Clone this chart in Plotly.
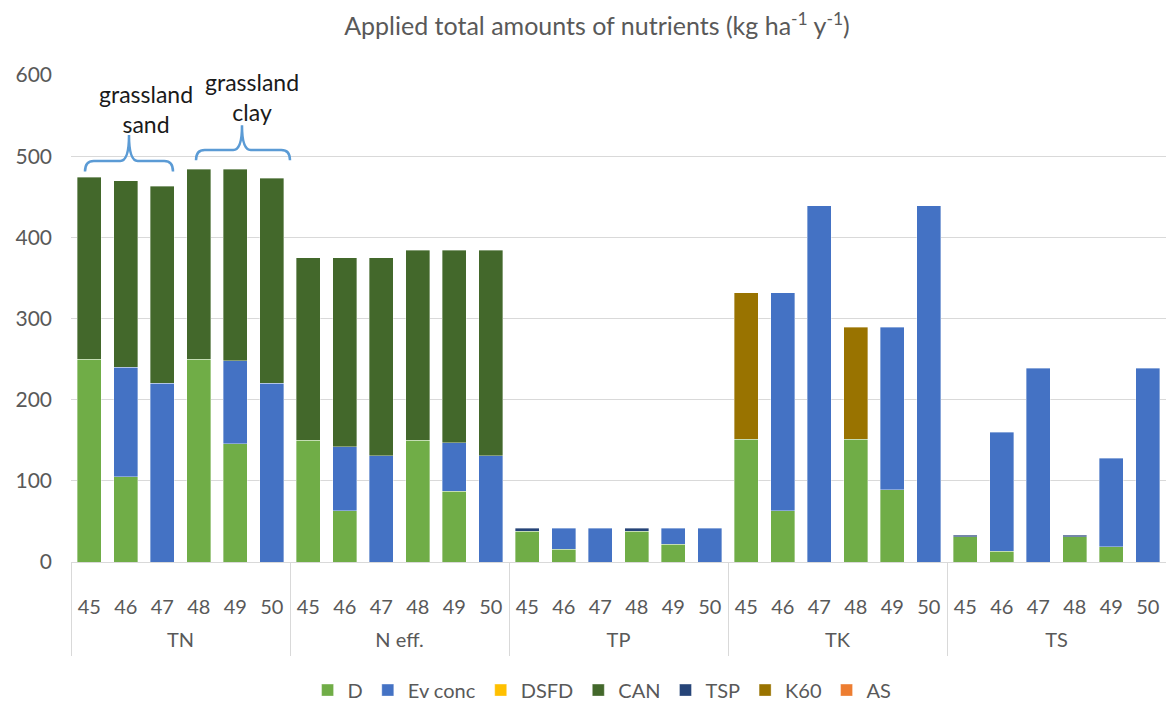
import plotly.graph_objects as go

groups = ["TN", "N eff.", "TP", "TK", "TS"]
years = ["45", "46", "47", "48", "49", "50"]

D = [250, 105, 0, 250, 146, 0,
     150, 63, 0, 150, 87, 0,
     38, 16, 0, 38, 22, 0,
     151, 63, 0, 151, 89, 0,
     31, 13, 0, 31, 19, 0]
EV_CONC = [0, 135, 220, 0, 102, 220,
           0, 79, 131, 0, 60, 131,
           0, 25.5, 41.5, 0, 19.5, 41.5,
           0, 269, 439, 0, 200, 439,
           0, 147, 239, 0, 109, 239]
DSFD = [0] * 30
CAN = [224, 230, 243, 234, 236, 253,
       225, 233, 244, 234, 237, 253,
       0, 0, 0, 0, 0, 0,
       0, 0, 0, 0, 0, 0,
       0, 0, 0, 0, 0, 0]
TSP = [0, 0, 0, 0, 0, 0,
       0, 0, 0, 0, 0, 0,
       3.5, 0, 0, 3.5, 0, 0,
       0, 0, 0, 0, 0, 0,
       2, 0, 0, 2, 0, 0]
K60 = [0, 0, 0, 0, 0, 0,
       0, 0, 0, 0, 0, 0,
       0, 0, 0, 0, 0, 0,
       181, 0, 0, 138, 0, 0,
       0, 0, 0, 0, 0, 0]
AS = [0] * 30

series = [
    ("D", D, "#70AD47"),
    ("Ev conc", EV_CONC, "#4472C4"),
    ("DSFD", DSFD, "#FFC000"),
    ("CAN", CAN, "#43682B"),
    ("TSP", TSP, "#264478"),
    ("K60", K60, "#997300"),
    ("AS", AS, "#ED7D31"),
]

n_y = len(years)
n = len(groups) * n_y
x_pos = list(range(n))
year_text = [y for _ in groups for y in years]
group_centers = [i * n_y + (n_y - 1) / 2 for i in range(len(groups))]
group_edges = [i * n_y - 0.5 for i in range(len(groups) + 1)]

FONT = "Lato, Calibri, Carlito, 'Open Sans', sans-serif"
GRAY = "#595959"
LINE = "#D9D9D9"

fig = go.Figure()
for name, vals, col in series:
    fig.add_trace(go.Bar(
        x=x_pos,
        y=[v if v else None for v in vals],
        name=name,
        marker=dict(color=col, line=dict(width=0.6, color="rgba(255,255,255,0.6)")),
    ))
# invisible carrier for the group-label axis
fig.add_trace(go.Scatter(x=group_centers, y=[0] * len(groups), xaxis="x2",
                         mode="markers", marker=dict(opacity=0),
                         showlegend=False, hoverinfo="skip"))

xr = [-0.5, n - 0.5]
fig.update_layout(
    barmode="stack",
    bargap=0.34,
    width=1166,
    height=702,
    margin=dict(l=71, r=0, t=75, b=140, autoexpand=False),
    paper_bgcolor="white",
    plot_bgcolor="white",
    font=dict(family=FONT, color=GRAY, size=20),
    title=dict(
        text="Applied total amounts of nutrients (kg ha<sup>-1</sup> y<sup>-1</sup>)",
        x=0.512, xanchor="center", y=0.962, yanchor="middle",
        font=dict(family=FONT, size=25, color=GRAY),
    ),
    legend=dict(
        orientation="h", x=0.485, xanchor="center", y=-0.263, yanchor="middle",
        font=dict(family=FONT, size=20, color=GRAY),
        itemwidth=30, traceorder="normal",
    ),
    yaxis=dict(
        range=[0, 600], dtick=100, showgrid=True, gridcolor=LINE,
        gridwidth=1, zeroline=False, showline=False,
        tickfont=dict(family=FONT, size=21, color=GRAY),
        ticklabelstandoff=18, automargin=False,
    ),
    xaxis=dict(
        range=xr, tickmode="array", tickvals=x_pos, ticktext=year_text,
        showline=True, linecolor=LINE, showgrid=False, zeroline=False,
        tickfont=dict(family=FONT, size=20, color=GRAY),
        ticks="", ticklabelstandoff=27, automargin=False,
        minor=dict(tickmode="array", tickvals=group_edges, ticks="outside",
                   ticklen=93, tickcolor=LINE, tickwidth=1, showgrid=False),
    ),
    xaxis2=dict(
        range=xr, overlaying="x", anchor="y", side="bottom",
        tickmode="array", tickvals=group_centers, ticktext=groups,
        showline=False, showgrid=False, zeroline=False, ticks="",
        tickfont=dict(family=FONT, size=20, color=GRAY),
        ticklabelstandoff=64, automargin=False,
    ),
)

# Braces (decorative annotations)
def brace(x0, x1, xm, y_end, y_line, y_peak):
    r = 0.008
    return (f"M {x0} {y_end} Q {x0} {y_line} {x0 + r} {y_line} "
            f"L {xm - r} {y_line} Q {xm} {y_line} {xm} {y_peak} "
            f"Q {xm} {y_line} {xm + r} {y_line} "
            f"L {x1 - r} {y_line} Q {x1} {y_line} {x1} {y_end}")

def px(p):
    return (p - 71) / 1095

fig.add_shape(type="path", xref="paper", yref="y",
              path=brace(px(85), px(173), px(129), 481, 494, 526),
              line=dict(color="#5B9BD5", width=2.5))
fig.add_shape(type="path", xref="paper", yref="y",
              path=brace(px(196), px(290), px(242), 495, 507.5, 538),
              line=dict(color="#5B9BD5", width=2.5))

fig.add_annotation(xref="paper", yref="y", x=px(146), y=(562 - 109) / 0.8117,
                   xanchor="center", yanchor="middle",
                   text="grassland<br>sand", showarrow=False,
                   font=dict(family=FONT, size=23, color="#1a1a1a"))
fig.add_annotation(xref="paper", yref="y", x=px(252), y=(562 - 97) / 0.8117,
                   xanchor="center", yanchor="middle",
                   text="grassland<br>clay", showarrow=False,
                   font=dict(family=FONT, size=23, color="#1a1a1a"))

fig.write_html("out.html", config={"displayModeBar": False},
               post_script="document.body.style.margin='0';document.body.style.overflow='hidden';")
